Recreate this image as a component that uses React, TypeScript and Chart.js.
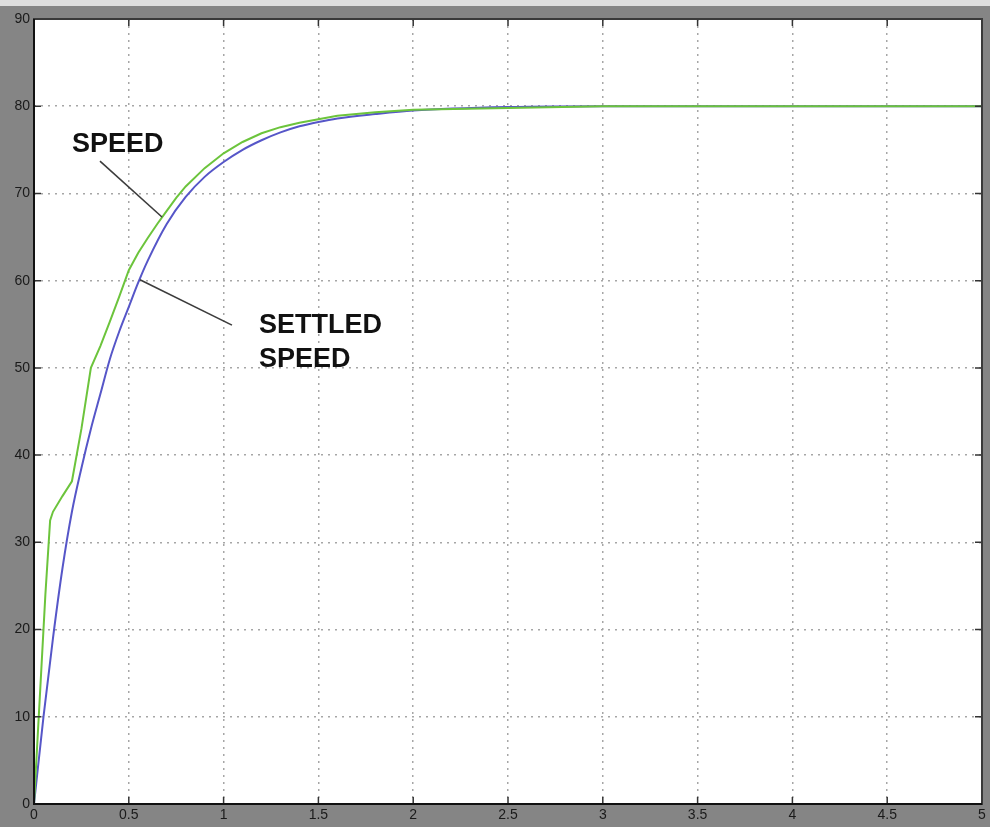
import React, { useEffect, useRef } from 'react';
import { Chart, registerables } from 'chart.js';

Chart.register(...registerables);

// ---- data ----
const speedTime = [0, 0.03, 0.06, 0.085, 0.1, 0.15, 0.2, 0.25, 0.3, 0.35, 0.4, 0.45, 0.5, 0.55, 0.6, 0.65, 0.7, 0.75, 0.8, 0.9, 1.0, 1.1, 1.2, 1.3, 1.4, 1.5, 1.6, 1.8, 2.0, 2.5, 3.0, 3.5, 4.0, 4.5, 5.0];
const speedValues = [0, 12, 24, 32.5, 33.5, 35.3, 37, 43, 50, 52.5, 55.3, 58.2, 61.2, 63.2, 64.9, 66.5, 68.0, 69.5, 70.8, 72.9, 74.6, 75.9, 76.9, 77.6, 78.1, 78.5, 78.9, 79.3, 79.6, 79.8, 80, 80, 80, 80, 80];

const settledTime = [0, 0.05, 0.1, 0.15, 0.2, 0.25, 0.3, 0.35, 0.4, 0.45, 0.5, 0.55, 0.6, 0.7, 0.8, 0.9, 1.0, 1.1, 1.2, 1.3, 1.4, 1.5, 1.6, 1.8, 2.0, 2.5, 3.0, 3.5, 4.0, 4.5, 5.0];
const settledValues = [0, 10, 19, 27, 33.5, 38.5, 43, 47, 51, 54.2, 57, 59.8, 62.3, 66.5, 69.6, 71.9, 73.6, 75.0, 76.1, 77.0, 77.7, 78.2, 78.6, 79.1, 79.5, 79.9, 80, 80, 80, 80, 80];

const xTickValues = [0, 0.5, 1, 1.5, 2, 2.5, 3, 3.5, 4, 4.5, 5];
const yTickValues = [0, 10, 20, 30, 40, 50, 60, 70, 80, 90];

const speedLabel = ['SPEED'];
const settledLabel = ['SETTLED', 'SPEED'];

// annotation anchors in data coordinates
const speedTextAt = { x: 0.2, y: 74.8 };
const speedLeader = [{ x: 0.348, y: 73.7 }, { x: 0.675, y: 67.3 }];
const settledTextAt = { x: 1.187, y: 54.0 };
const settledLeader = [{ x: 0.559, y: 60.1 }, { x: 1.044, y: 54.9 }];

const toPoints = (xs: number[], ys: number[]) => xs.map((x, i) => ({ x, y: ys[i] }));

const framePlugin = {
  id: 'frame',
  beforeDraw(chart: any) {
    const { ctx, chartArea: a, width, height } = chart;
    ctx.save();
    ctx.fillStyle = '#858585';
    ctx.fillRect(0, 0, width, height);
    ctx.fillStyle = '#dedede';
    ctx.fillRect(0, 0, width, 6);
    ctx.fillStyle = '#ffffff';
    ctx.fillRect(a.left, a.top, a.right - a.left, a.bottom - a.top);
    ctx.restore();
  },
  afterDraw(chart: any) {
    const { ctx, chartArea: a, scales } = chart;
    ctx.save();
    ctx.strokeStyle = '#333333';
    ctx.lineWidth = 1.5;
    ctx.beginPath();
    xTickValues.forEach((v) => {
      const px = scales.x.getPixelForValue(v);
      ctx.moveTo(px, a.bottom);
      ctx.lineTo(px, a.bottom - 7);
      ctx.moveTo(px, a.top);
      ctx.lineTo(px, a.top + 7);
    });
    yTickValues.forEach((v) => {
      const py = scales.y.getPixelForValue(v);
      ctx.moveTo(a.left, py);
      ctx.lineTo(a.left + 7, py);
      ctx.moveTo(a.right, py);
      ctx.lineTo(a.right - 7, py);
    });
    ctx.stroke();
    ctx.strokeStyle = '#3a3a3a';
    ctx.lineWidth = 2;
    ctx.strokeRect(a.left, a.top, a.right - a.left, a.bottom - a.top);
    ctx.strokeStyle = '#111111';
    ctx.beginPath();
    ctx.moveTo(a.left, a.top);
    ctx.lineTo(a.left, a.bottom);
    ctx.lineTo(a.right, a.bottom);
    ctx.stroke();
    ctx.restore();
  },
  afterDatasetsDraw(chart: any) {
    const { ctx, scales } = chart;
    const X = (v: number) => scales.x.getPixelForValue(v);
    const Y = (v: number) => scales.y.getPixelForValue(v);
    ctx.save();
    ctx.strokeStyle = '#3c3c3c';
    ctx.lineWidth = 1.6;
    [speedLeader, settledLeader].forEach((seg) => {
      ctx.beginPath();
      ctx.moveTo(X(seg[0].x), Y(seg[0].y));
      ctx.lineTo(X(seg[1].x), Y(seg[1].y));
      ctx.stroke();
    });
    ctx.fillStyle = '#111111';
    ctx.font = 'bold 27px "Liberation Sans", Arial, sans-serif';
    ctx.textAlign = 'left';
    ctx.textBaseline = 'alphabetic';
    speedLabel.forEach((t, i) => ctx.fillText(t, X(speedTextAt.x), Y(speedTextAt.y) + i * 34));
    settledLabel.forEach((t, i) => ctx.fillText(t, X(settledTextAt.x), Y(settledTextAt.y) + i * 34));
    ctx.restore();
  },
};

export default function App() {
  const ref = useRef<HTMLCanvasElement>(null);
  useEffect(() => {
    document.body.style.margin = '0';
    const canvas = ref.current;
    if (!canvas) return;
    const tickFont = { family: '"Liberation Sans", Arial, sans-serif', size: 14 };
    const chart = new Chart(canvas, {
      type: 'line',
      data: {
        datasets: [
          {
            label: 'SPEED',
            data: toPoints(speedTime, speedValues),
            borderColor: '#6cc43c',
            borderWidth: 2,
            pointRadius: 0,
            tension: 0,
            fill: false,
          },
          {
            label: 'SETTLED SPEED',
            data: toPoints(settledTime, settledValues),
            borderColor: '#5656c8',
            borderWidth: 2,
            pointRadius: 0,
            cubicInterpolationMode: 'monotone',
            fill: false,
          },
        ],
      },
      options: {
        responsive: false,
        animation: false,
        events: [],
        layout: { padding: { top: 19, right: 8, bottom: 0, left: 0 } },
        plugins: { legend: { display: false }, tooltip: { enabled: false } },
        scales: {
          x: {
            type: 'linear',
            min: 0,
            max: 5,
            afterBuildTicks: (s: any) => {
              s.ticks = xTickValues.map((v) => ({ value: v }));
            },
            afterFit: (s: any) => {
              s.height = 23;
            },
            ticks: {
              font: tickFont,
              color: '#1a1a1a',
              padding: 3,
              maxRotation: 0,
              autoSkip: false,
              callback: (v: any) => String(v),
            },
            grid: { color: '#a6a6a6', lineWidth: 1.5, drawTicks: false },
            border: { display: false, dash: [2, 5] },
          },
          y: {
            type: 'linear',
            min: 0,
            max: 90,
            afterBuildTicks: (s: any) => {
              s.ticks = yTickValues.map((v) => ({ value: v }));
            },
            afterFit: (s: any) => {
              s.width = 34;
            },
            ticks: {
              font: tickFont,
              color: '#1a1a1a',
              padding: 4,
              autoSkip: false,
              callback: (v: any) => String(v),
            },
            grid: { color: '#a6a6a6', lineWidth: 1.5, drawTicks: false },
            border: { display: false, dash: [2, 5] },
          },
        },
      },
      plugins: [framePlugin],
    } as any);
    return () => chart.destroy();
  }, []);
  return (
    <div style={{ width: 990, height: 827 }}>
      <canvas ref={ref} width={990} height={827} />
    </div>
  );
}
